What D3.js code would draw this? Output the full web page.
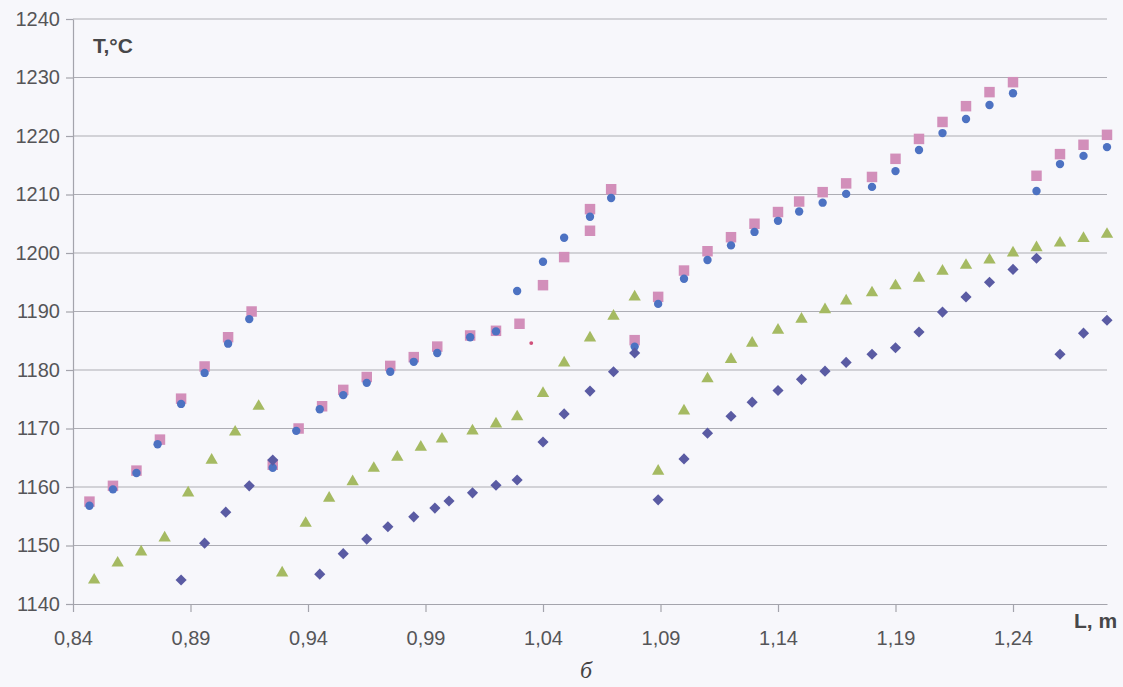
<!DOCTYPE html>
<html>
<head>
<meta charset="utf-8">
<script src="https://cdn.jsdelivr.net/npm/d3@7"></script>
<style>
  html, body { margin: 0; padding: 0; background: #f7f7fb; }
  svg { display: block; }
</style>
</head>
<body>
<svg id="chart" width="1123" height="687"></svg>
<script>
// Axis ticks
const xTicks = [0.84, 0.89, 0.94, 0.99, 1.04, 1.09, 1.14, 1.19, 1.24];
const yTicks = [1140, 1150, 1160, 1170, 1180, 1190, 1200, 1210, 1220, 1230, 1240];

// Series 1 — circles
const circleL = [0.847, 0.857, 0.867, 0.876, 0.886, 0.896, 0.906, 0.915, 0.925, 0.935, 0.945, 0.955, 0.965, 0.975, 0.985, 0.995,
  1.009, 1.020, 1.029, 1.040, 1.049, 1.060, 1.069, 1.079, 1.089, 1.100, 1.110, 1.120, 1.130, 1.140, 1.149, 1.159, 1.169,
  1.180, 1.190, 1.200, 1.210, 1.220, 1.230, 1.240, 1.250, 1.260, 1.270, 1.280];
const circleT = [1156.8, 1159.6, 1162.4, 1167.3, 1174.2, 1179.5, 1184.5, 1188.7, 1163.3, 1169.6, 1173.3, 1175.7, 1177.8, 1179.7, 1181.4, 1182.9,
  1185.6, 1186.6, 1193.5, 1198.5, 1202.6, 1206.2, 1209.4, 1184.0, 1191.3, 1195.6, 1198.8, 1201.3, 1203.6, 1205.5, 1207.1, 1208.6, 1210.1,
  1211.3, 1214.0, 1217.6, 1220.5, 1222.9, 1225.3, 1227.3, 1210.6, 1215.2, 1216.6, 1218.1];

// Series 2 — squares
const squareL = [0.847, 0.857, 0.867, 0.877, 0.886, 0.896, 0.906, 0.916, 0.925, 0.936, 0.946, 0.955, 0.965, 0.975, 0.985, 0.995,
  1.009, 1.020, 1.030, 1.040, 1.049, 1.060, 1.060, 1.069, 1.079, 1.089, 1.100, 1.110, 1.120, 1.130, 1.140, 1.149, 1.159, 1.169,
  1.180, 1.190, 1.200, 1.210, 1.220, 1.230, 1.240, 1.250, 1.260, 1.270, 1.280];
const squareT = [1157.5, 1160.2, 1162.8, 1168.1, 1175.1, 1180.6, 1185.6, 1190.0, 1163.8, 1170.0, 1173.8, 1176.6, 1178.8, 1180.7, 1182.2, 1184.0,
  1185.9, 1186.7, 1187.9, 1194.5, 1199.3, 1203.8, 1207.5, 1210.9, 1185.1, 1192.5, 1197.0, 1200.3, 1202.7, 1205.0, 1207.0, 1208.8, 1210.4, 1211.9,
  1213.0, 1216.1, 1219.5, 1222.4, 1225.1, 1227.5, 1229.2, 1213.2, 1216.9, 1218.5, 1220.2];

// Series 3 — triangles
const triangleL = [0.849, 0.859, 0.869, 0.879, 0.889, 0.899, 0.909, 0.919, 0.929, 0.939, 0.949, 0.959, 0.968, 0.978, 0.988, 0.997,
  1.010, 1.020, 1.029, 1.040, 1.049, 1.060, 1.070, 1.079, 1.089, 1.100, 1.110, 1.120, 1.129, 1.140, 1.150, 1.160, 1.169,
  1.180, 1.190, 1.200, 1.210, 1.220, 1.230, 1.240, 1.250, 1.260, 1.270, 1.280];
const triangleT = [1144.1, 1147.0, 1148.9, 1151.3, 1159.0, 1164.6, 1169.4, 1173.8, 1145.3, 1153.8, 1158.1, 1160.9, 1163.2, 1165.1, 1166.8, 1168.2,
  1169.6, 1170.8, 1172.0, 1176.0, 1181.2, 1185.5, 1189.2, 1192.5, 1162.7, 1173.0, 1178.5, 1181.8, 1184.6, 1186.8, 1188.7, 1190.3, 1191.8,
  1193.2, 1194.4, 1195.7, 1196.9, 1197.9, 1198.8, 1200.0, 1200.9, 1201.7, 1202.5, 1203.2];

// Series 4 — diamonds
const diamondL = [0.886, 0.896, 0.905, 0.915, 0.925, 0.945, 0.955, 0.965, 0.974, 0.985, 0.994, 1.000,
  1.010, 1.020, 1.029, 1.040, 1.049, 1.060, 1.070, 1.079, 1.089, 1.100, 1.110, 1.120, 1.129, 1.140, 1.150, 1.160, 1.169,
  1.180, 1.190, 1.200, 1.210, 1.220, 1.230, 1.240, 1.250, 1.260, 1.270, 1.280];
const diamondT = [1144.1, 1150.4, 1155.7, 1160.2, 1164.6, 1145.1, 1148.6, 1151.1, 1153.2, 1154.9, 1156.4, 1157.6,
  1159.0, 1160.3, 1161.2, 1167.7, 1172.5, 1176.4, 1179.7, 1182.9, 1157.8, 1164.8, 1169.2, 1172.1, 1174.5, 1176.5, 1178.4, 1179.8, 1181.3,
  1182.7, 1183.8, 1186.5, 1189.9, 1192.5, 1195.0, 1197.2, 1199.1, 1182.7, 1186.3, 1188.5];

// Lone small red point
const dotL = [1.035];
const dotT = [1184.6];

const svg = d3.select("#chart");
const FONT = "'Liberation Sans', Arial, sans-serif";

const x = d3.scaleLinear().domain([0.84, 1.28]).range([73, 1107]);
const y = d3.scaleLinear().domain([1140, 1240]).range([604, 19]);

// Horizontal gridlines
svg.append("g")
  .selectAll("line")
  .data(yTicks.filter(d => d > 1140))
  .join("line")
  .attr("x1", x(0.84)).attr("x2", x(1.28))
  .attr("y1", d => y(d)).attr("y2", d => y(d))
  .attr("stroke", "#adadb4")
  .attr("stroke-width", 1.2);

// Y axis
const yAxis = svg.append("g")
  .attr("transform", `translate(${x(0.84)},0)`)
  .call(d3.axisLeft(y).tickValues(yTicks).tickSize(7).tickSizeOuter(0).tickPadding(6).tickFormat(d3.format("d")));

// X axis
const fmtX = d => d3.format(".2f")(d).replace(".", ",");
const xAxis = svg.append("g")
  .attr("transform", `translate(0,${y(1140)})`)
  .call(d3.axisBottom(x).tickValues(xTicks).tickSize(8).tickSizeOuter(0).tickPadding(19).tickFormat(fmtX));

[yAxis, xAxis].forEach(g => {
  g.select(".domain").attr("stroke", "#a4a4ac").attr("stroke-width", 1.2);
  g.selectAll(".tick line").attr("stroke", "#a4a4ac").attr("stroke-width", 1.2);
  g.selectAll(".tick text")
    .attr("fill", "#555558")
    .style("font-family", FONT)
    .style("font-size", "20px");
});

// Markers
function drawSeries(Ls, Ts, symbolType, size, fill, rotate) {
  const pts = Ls.map((l, i) => [l, Ts[i]]);
  svg.append("g")
    .selectAll("path")
    .data(pts)
    .join("path")
    .attr("d", d3.symbol().type(symbolType).size(size))
    .attr("transform", d => `translate(${x(d[0])},${y(d[1])})` + (rotate ? ` rotate(${rotate})` : ""))
    .attr("fill", fill);
}

drawSeries(squareL, squareT, d3.symbolSquare, 110, "#d28fba");
drawSeries(circleL, circleT, d3.symbolCircle, 55, "#4d72c2");
drawSeries(triangleL, triangleT, d3.symbolTriangle, 66, "#a5ba62");
drawSeries(diamondL, diamondT, d3.symbolSquare, 62, "#5a5ba3", 45);
drawSeries(dotL, dotT, d3.symbolCircle, 12, "#d0507a");

// Axis titles
svg.append("text")
  .attr("x", 93).attr("y", 53)
  .attr("fill", "#474749")
  .style("font-family", FONT).style("font-weight", "bold").style("font-size", "21px")
  .text("T,°C");

svg.append("text")
  .attr("x", 1074).attr("y", 628)
  .attr("fill", "#474749")
  .style("font-family", FONT).style("font-weight", "bold").style("font-size", "21px")
  .text("L, m");

// Panel letter
svg.append("text")
  .attr("x", 586).attr("y", 678)
  .attr("text-anchor", "middle")
  .attr("fill", "#444")
  .style("font-family", "'Liberation Serif', 'Times New Roman', serif")
  .style("font-style", "italic")
  .style("font-size", "24px")
  .text("б");
</script>
</body>
</html>
